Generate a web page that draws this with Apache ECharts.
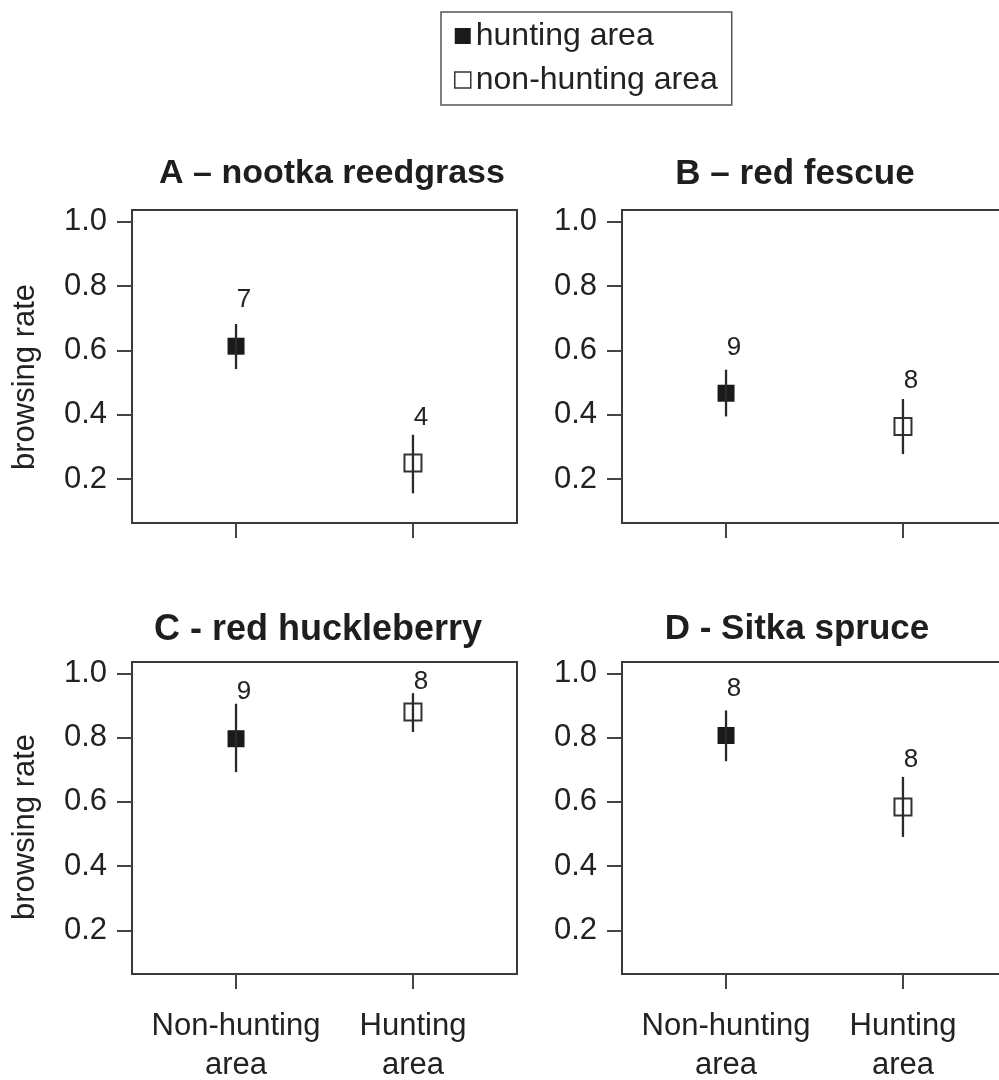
<!DOCTYPE html>
<html>
<head>
<meta charset="utf-8">
<script src="https://cdn.jsdelivr.net/npm/echarts@6/dist/echarts.min.js"></script>
<style>
  html, body { margin: 0; padding: 0; background: #fff; }
  #chart { width: 999px; height: 1080px; }
</style>
</head>
<body>
<div id="chart"></div>
<script>
// ---- data ----
const panelTitles = ['A \u2013 nootka reedgrass', 'B \u2013 red fescue', 'C - red huckleberry', 'D - Sitka spruce'];
const categories = ['Non-hunting\narea', 'Hunting\narea'];
const yTicks = [0.2, 0.4, 0.6, 0.8, 1.0];
const yAxisTitle = 'browsing rate';
const seriesNames = ['hunting area', 'non-hunting area'];

// filled squares (legend: hunting area), drawn at the first category
const filledMean  = [0.613, 0.467, 0.797, 0.807];
const filledLow   = [0.542, 0.395, 0.693, 0.727];
const filledHigh  = [0.682, 0.540, 0.906, 0.885];
const filledN     = [7, 9, 9, 8];
const filledNY    = [0.758, 0.607, 0.943, 0.951];

// open squares (legend: non-hunting area), drawn at the second category
const openMean  = [0.250, 0.364, 0.880, 0.584];
const openLow   = [0.156, 0.278, 0.818, 0.491];
const openHigh  = [0.338, 0.449, 0.939, 0.678];
const openN     = [4, 8, 8, 8];
const openNY    = [0.390, 0.507, 0.974, 0.730];

// ---- layout ----
const FONT = '"Liberation Sans", Arial, Helvetica, sans-serif';
const grids = [
  { left: 132, top: 210, width: 385, height: 313 },
  { left: 622, top: 210, width: 385, height: 313 },
  { left: 132, top: 662, width: 385, height: 312 },
  { left: 622, top: 662, width: 385, height: 312 }
];
const titlePos = [[332, 174], [795, 174], [318, 630], [797, 629]];
const titleSize = [34, 35, 36, 35];
const yTitlePos = [[25, 377], null, [25, 827], null];

const chart = echarts.init(document.getElementById('chart'));

const xAxes = [], yAxes = [], series = [], graphics = [];
grids.forEach((g, i) => {
  const bottomRow = i >= 2;
  xAxes.push({
    type: 'value', gridIndex: i, min: 0.412, max: 2.588,
    splitLine: { show: false },
    axisLine: { show: false },
    axisTick: { show: true, length: 15, customValues: [1, 2], lineStyle: { color: '#444', width: 2 } },
    axisLabel: {
      show: bottomRow, customValues: [1, 2],
      formatter: v => categories[Math.round(v) - 1],
      fontSize: 31, lineHeight: 39, color: '#222', fontFamily: FONT, margin: 33
    }
  });
  yAxes.push({
    type: 'value', gridIndex: i, min: 0.064, max: 1.036,
    splitLine: { show: false },
    axisLine: { show: false },
    axisTick: { show: true, length: 15, customValues: yTicks, lineStyle: { color: '#444', width: 2 } },
    axisLabel: {
      customValues: yTicks, formatter: v => v.toFixed(1),
      fontSize: 31, color: '#222', fontFamily: FONT, margin: 25
    }
  });

  series.push({
    name: seriesNames[0], type: 'scatter', xAxisIndex: i, yAxisIndex: i,
    symbol: 'rect', symbolSize: 17, z: 2,
    itemStyle: { color: '#1a1a1a', opacity: 1 },
    data: [[1, filledMean[i]]]
  });
  series.push({
    name: seriesNames[1], type: 'scatter', xAxisIndex: i, yAxisIndex: i,
    symbol: 'rect', symbolSize: 17, z: 2,
    itemStyle: { color: 'rgba(255,255,255,0)', borderColor: '#333', borderWidth: 2, opacity: 1 },
    data: [[2, openMean[i]]]
  });
  series.push({
    name: 'error', type: 'custom', xAxisIndex: i, yAxisIndex: i, z: 3,
    encode: { x: 0, y: [1, 2] },
    data: [
      [1, filledLow[i], filledHigh[i], filledN[i], filledNY[i]],
      [2, openLow[i], openHigh[i], openN[i], openNY[i]]
    ],
    renderItem: function (params, api) {
      const x = api.value(0);
      const p1 = api.coord([x, api.value(1)]);
      const p2 = api.coord([x, api.value(2)]);
      const pl = api.coord([x, api.value(4)]);
      return {
        type: 'group',
        children: [
          { type: 'line', shape: { x1: p1[0], y1: p1[1], x2: p2[0], y2: p2[1] },
            style: { stroke: '#2a2a2a', lineWidth: 2.3 } },
          { type: 'text', x: pl[0] + 8, y: pl[1],
            style: { text: String(api.value(3)), font: '26px ' + FONT, fill: '#222',
                     align: 'center', verticalAlign: 'middle' } }
        ]
      };
    }
  });

  graphics.push({
    type: 'text', x: titlePos[i][0], y: titlePos[i][1],
    style: { text: panelTitles[i], font: 'bold ' + titleSize[i] + 'px ' + FONT, fill: '#1e1e1e',
             align: 'center', verticalAlign: 'middle' }
  });
  if (yTitlePos[i]) {
    graphics.push({
      type: 'text', x: yTitlePos[i][0], y: yTitlePos[i][1], rotation: Math.PI / 2,
      style: { text: yAxisTitle, font: '31px ' + FONT, fill: '#222',
               align: 'center', verticalAlign: 'middle' }
    });
  }
});

chart.setOption({
  animation: false,
  backgroundColor: '#fff',
  textStyle: { fontFamily: FONT },
  grid: grids.map(g => Object.assign({ show: true, borderColor: '#3a3a3a', borderWidth: 2,
                                        backgroundColor: 'transparent', outerBoundsMode: 'none',
                                        containLabel: false }, g)),
  legend: {
    orient: 'vertical', left: 441, top: 12,
    selectedMode: false,
    itemWidth: 16, itemHeight: 16, itemGap: 12,
    padding: [8, 14, 9, 13],
    borderColor: '#555', borderWidth: 1.5,
    textStyle: { fontSize: 32, color: '#222', fontFamily: FONT },
    data: [
      { name: seriesNames[0], icon: 'rect', itemStyle: { color: '#1a1a1a' } },
      { name: seriesNames[1], icon: 'rect', itemStyle: { color: '#fff', borderColor: '#333', borderWidth: 1.5 } }
    ]
  },
  xAxis: xAxes,
  yAxis: yAxes,
  series: series,
  graphic: graphics
});
</script>
</body>
</html>
